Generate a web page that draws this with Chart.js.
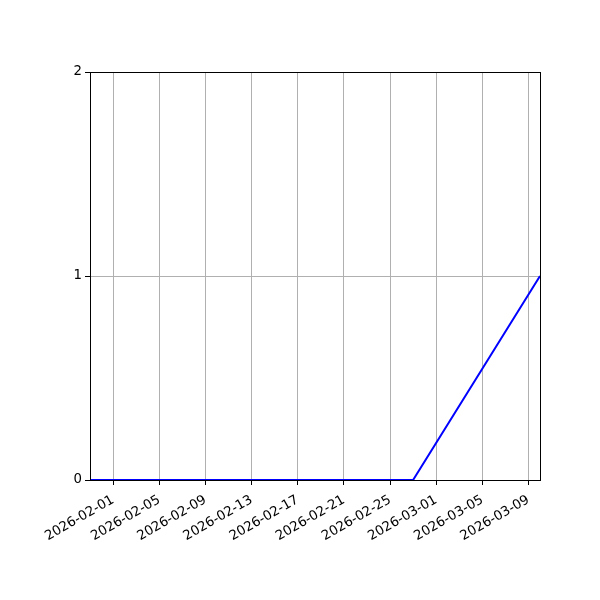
<!doctype html>
<html lang="en">
<head>
    <meta charset="utf-8">
    <title>chart</title>
    <script src="https://cdn.jsdelivr.net/npm/chart.js"></script>
    <style>
        html, body { margin: 0; padding: 0; background: #fff; }
        #wrap { width: 600px; height: 600px; }
    </style>
</head>
<body>
    <div id="wrap"><canvas id="chart" width="600" height="600"></canvas></div>
    <script>
        // values
        const dates = ['2026-01-30', '2026-02-27', '2026-03-10'];
        const counts = [0, 0, 1];
        const tick_dates = ['2026-02-01', '2026-02-05', '2026-02-09', '2026-02-13', '2026-02-17',
            '2026-02-21', '2026-02-25', '2026-03-01', '2026-03-05', '2026-03-09'];
        const y_ticks = [0, 1, 2];

        function toMs(s) {
            const p = s.split('-');
            return Date.UTC(+p[0], +p[1] - 1, +p[2]);
        }
        function fmt(ms) {
            const d = new Date(ms);
            return d.getUTCFullYear() + '-' + (d.getUTCMonth() + 1).toString().padStart(2, '0') + '-' + d.getUTCDate().toString().padStart(2, '0');
        }

        const points = [];
        for (let i = 0; i < dates.length; i++) {
            points.push({ x: toMs(dates[i]), y: counts[i] });
        }

        const frame = {
            id: 'frame',
            afterDraw(chart) {
                const a = chart.chartArea;
                const c = chart.ctx;
                c.save();
                c.strokeStyle = '#000';
                c.lineWidth = 1;
                c.strokeRect(Math.round(a.left) + 0.5, Math.round(a.top) + 0.5, Math.round(a.right - a.left), Math.round(a.bottom - a.top));
                c.restore();
            }
        };

        Chart.defaults.font.family = 'DejaVu Sans';
        Chart.defaults.font.size = 13.3;
        Chart.defaults.color = '#000';

        new Chart(document.getElementById('chart'), {
            type: 'line',
            data: {
                datasets: [{
                    data: points,
                    borderColor: '#0000ff',
                    borderWidth: 2,
                    pointRadius: 0,
                    tension: 0,
                    clip: 2
                }]
            },
            options: {
                responsive: false,
                animation: false,
                layout: { padding: { left: 0, top: 72, right: 60, bottom: 0 } },
                plugins: { legend: { display: false }, tooltip: { enabled: false } },
                scales: {
                    x: {
                        type: 'linear',
                        min: toMs(dates[0]),
                        max: toMs(dates[dates.length - 1]),
                        afterBuildTicks: (s) => { s.ticks = tick_dates.map(t => ({ value: toMs(t) })); },
                        afterFit: (s) => { s.height = 120; s.paddingLeft = 0; s.paddingRight = 0; },
                        ticks: {
                            callback: (v) => fmt(v),
                            maxRotation: 30,
                            minRotation: 30,
                            autoSkip: false,
                            padding: 7,
                            color: '#000'
                        },
                        grid: { color: '#b0b0b0', lineWidth: 1, tickColor: '#000', tickLength: 5 },
                        border: { color: '#000', width: 1 }
                    },
                    y: {
                        min: 0,
                        max: 2,
                        afterBuildTicks: (s) => { s.ticks = y_ticks.map(v => ({ value: v })); },
                        afterFit: (s) => { s.width = 90; s.paddingTop = 0; s.paddingBottom = 0; },
                        ticks: { padding: 3, color: '#000' },
                        grid: { color: '#b0b0b0', lineWidth: 1, tickColor: '#000', tickLength: 5 },
                        border: { color: '#000', width: 1 }
                    }
                }
            },
            plugins: [frame]
        });
    </script>
</body>
</html>
